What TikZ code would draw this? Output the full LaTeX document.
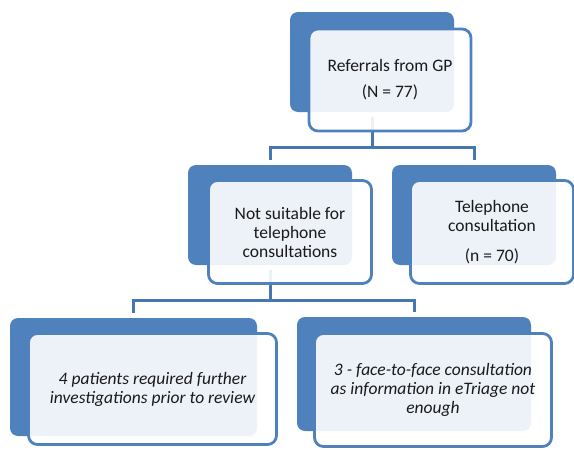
\documentclass[tikz,border=0pt]{standalone}
\usepackage{fontspec}
\setmainfont{Carlito}
\definecolor{bk}{HTML}{4F81BD}
\definecolor{ln}{HTML}{4677B4}
\definecolor{tx}{HTML}{1A1A1A}
\begin{document}
\begin{tikzpicture}[x=1pt,y=-1pt,
  backbox/.style={rectangle, rounded corners=8pt, fill=bk, inner sep=0pt},
  frontbox/.style={rectangle, rounded corners=9pt, draw=bk, line width=2.8pt,
    fill=white, fill opacity=0.9, text opacity=1, text=tx, align=center,
    font=\fontsize{17.5}{19}\selectfont, inner sep=0pt},
  italbox/.style={frontbox, font=\fontsize{17.5}{19}\selectfont\itshape},
  conn/.style={draw=ln, line width=3pt, shorten <=5pt, shorten >=5pt}]
\useasboundingbox (0,0) rectangle (574,450);
% back boxes
\node[backbox, minimum width=164pt, minimum height=100pt] (b0) at (372,62) {};
\node[backbox, minimum width=164pt, minimum height=100pt] (b1) at (270,215) {};
\node[backbox, minimum width=164pt, minimum height=100pt] (b2) at (474,215) {};
\node[backbox, minimum width=247pt, minimum height=118pt] (b3) at (133.5,377) {};
\node[backbox, minimum width=234pt, minimum height=114pt] (b4) at (414,374) {};
% connectors
\coordinate (j0) at (372,147);
\coordinate (j1) at (270,300);
\draw[conn, shorten >=0pt] (b0.south) -- (j0);
\draw[conn] (b1.north) |- (b2.north |- j0) -- (b2.north);
\draw[conn, shorten >=0pt] (b1.south) -- (j1);
\draw[conn] (b3.north) |- (b4.north |- j1) -- (b4.north);
% front boxes
\node[frontbox, minimum width=162pt, minimum height=102pt] (f0) at (390,80)
  {Referrals from GP\\[7pt](N = 77)};
\node[frontbox, minimum width=163pt, minimum height=103pt] (f1) at (290,232)
  {Not suitable for\\telephone\\consultations};
\node[frontbox, minimum width=163pt, minimum height=103pt] (f2) at (492,232)
  {Telephone\\consultation\\[11pt](n = 70)};
\node[italbox, minimum width=248pt, minimum height=111pt] (f3) at (152.5,389)
  {4 patients required further\\investigations prior to review};
\node[italbox, minimum width=237pt, minimum height=113pt] (f4) at (433,390)
  {3 - face-to-face consultation\\as information in eTriage not\\enough};
\end{tikzpicture}
\end{document}
